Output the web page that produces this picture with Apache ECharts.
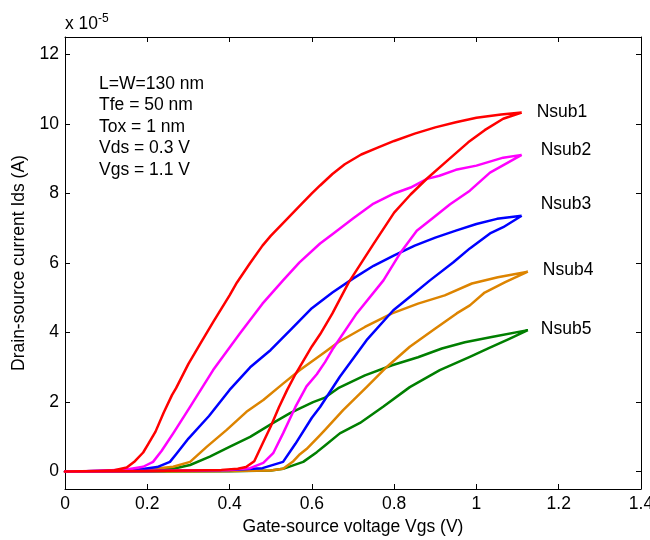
<!DOCTYPE html>
<html>
<head>
<meta charset="utf-8">
<script src="https://cdn.jsdelivr.net/npm/echarts@6/dist/echarts.min.js"></script>
<style>html,body{margin:0;padding:0;background:#fff}#c{width:650px;height:540px}</style>
</head>
<body>
<div id="c"></div>
<script>
// ---- data (Vgs in V, Ids in units of 1e-5 A) ----
const xTicks = [0, 0.2, 0.4, 0.6, 0.8, 1.0, 1.2, 1.4];
const yTicks = [0, 2, 4, 6, 8, 10, 12];
const seriesNames = ['Nsub1', 'Nsub2', 'Nsub3', 'Nsub4', 'Nsub5'];
const annotationLines = ['L=W=130 nm', 'Tfe = 50 nm', 'Tox = 1 nm', 'Vds = 0.3 V', 'Vgs = 1.1 V'];

// upper (backward sweep, from 1.1 V down to 0) and lower (forward sweep, 0 up to 1.1 V)
const nsub1Up = [[1.11,10.33],[1.06,10.27],[1.0,10.18],[0.95,10.05],[0.9,9.9],[0.85,9.72],[0.8,9.51],[0.76,9.32],[0.72,9.12],[0.68,8.84],[0.65,8.56],[0.62,8.23],[0.6,8.0],[0.571,7.65],[0.53,7.15],[0.5,6.78],[0.48,6.5],[0.45,6.0],[0.418,5.44],[0.4,5.07],[0.36,4.3],[0.33,3.7],[0.3,3.1],[0.27,2.4],[0.26,2.2],[0.24,1.7],[0.22,1.15],[0.2,0.75],[0.19,0.55],[0.17,0.3],[0.15,0.12],[0.12,0.04],[0.08,0.02],[0.04,0.01],[0,0]];
const nsub1Down = [[0,0],[0.1,0.01],[0.2,0.02],[0.3,0.03],[0.38,0.05],[0.42,0.08],[0.44,0.13],[0.46,0.3],[0.48,0.8],[0.5,1.3],[0.52,1.85],[0.54,2.35],[0.56,2.8],[0.58,3.2],[0.6,3.6],[0.62,3.95],[0.65,4.55],[0.69,5.45],[0.75,6.55],[0.8,7.45],[0.84,7.97],[0.88,8.43],[0.93,8.95],[0.98,9.47],[1.02,9.82],[1.065,10.15],[1.11,10.33]];

const nsub2Up = [[1.11,9.11],[1.065,9.03],[1.0,8.8],[0.95,8.68],[0.91,8.51],[0.88,8.42],[0.84,8.17],[0.8,8.0],[0.75,7.71],[0.7,7.28],[0.65,6.83],[0.62,6.56],[0.57,6.02],[0.53,5.5],[0.48,4.83],[0.425,3.97],[0.36,2.92],[0.304,1.86],[0.263,1.1],[0.235,0.6],[0.214,0.28],[0.19,0.14],[0.15,0.06],[0.1,0.03],[0.05,0.01],[0,0]];
const nsub2Down = [[0,0],[0.1,0.01],[0.2,0.02],[0.3,0.03],[0.4,0.05],[0.45,0.1],[0.482,0.25],[0.506,0.53],[0.53,1.1],[0.56,1.86],[0.587,2.45],[0.612,2.8],[0.632,3.15],[0.652,3.55],[0.709,4.55],[0.774,5.5],[0.814,6.27],[0.855,6.93],[0.895,7.3],[0.936,7.69],[0.984,8.08],[1.033,8.6],[1.11,9.11]];

const nsub3Up = [[1.11,7.36],[1.05,7.27],[1.0,7.12],[0.95,6.93],[0.9,6.73],[0.85,6.5],[0.8,6.22],[0.75,5.92],[0.7,5.55],[0.65,5.15],[0.6,4.7],[0.55,4.1],[0.5,3.5],[0.45,3.0],[0.4,2.35],[0.35,1.6],[0.3,0.95],[0.27,0.5],[0.255,0.28],[0.224,0.13],[0.18,0.06],[0.12,0.03],[0.05,0.01],[0,0]];
const nsub3Down = [[0,0],[0.1,0.01],[0.2,0.02],[0.3,0.03],[0.4,0.05],[0.48,0.1],[0.53,0.28],[0.56,0.8],[0.6,1.55],[0.62,1.86],[0.668,2.73],[0.733,3.78],[0.798,4.64],[0.846,5.1],[0.887,5.5],[0.944,6.02],[0.984,6.42],[1.033,6.85],[1.065,7.03],[1.11,7.36]];

const nsub4Up = [[1.125,5.75],[1.052,5.59],[0.989,5.41],[0.923,5.07],[0.858,4.83],[0.795,4.55],[0.729,4.16],[0.664,3.72],[0.632,3.44],[0.571,2.92],[0.53,2.53],[0.482,2.06],[0.441,1.72],[0.393,1.2],[0.345,0.72],[0.304,0.28],[0.263,0.14],[0.2,0.06],[0.1,0.02],[0,0]];
const nsub4Down = [[0,0],[0.1,0],[0.2,0.01],[0.3,0.01],[0.4,0.02],[0.5,0.03],[0.53,0.08],[0.555,0.3],[0.571,0.5],[0.587,0.65],[0.62,1.05],[0.632,1.2],[0.676,1.77],[0.733,2.43],[0.782,3.01],[0.838,3.59],[0.895,4.07],[0.952,4.55],[0.984,4.78],[1.02,5.15],[1.07,5.45],[1.125,5.75]];

const nsub5Up = [[1.125,4.07],[1.037,3.87],[0.972,3.72],[0.916,3.54],[0.858,3.29],[0.795,3.06],[0.729,2.77],[0.664,2.4],[0.632,2.13],[0.603,2.0],[0.571,1.82],[0.547,1.68],[0.506,1.4],[0.45,1.0],[0.401,0.72],[0.352,0.43],[0.304,0.19],[0.263,0.08],[0.2,0.03],[0.1,0.01],[0,0]];
const nsub5Down = [[0,0],[0.2,0],[0.4,0.01],[0.5,0.03],[0.53,0.08],[0.579,0.28],[0.612,0.56],[0.632,0.75],[0.668,1.1],[0.717,1.4],[0.774,1.87],[0.838,2.43],[0.911,2.92],[0.984,3.3],[1.03,3.55],[1.08,3.82],[1.125,4.07]];

const upper = [nsub1Up, nsub2Up, nsub3Up, nsub4Up, nsub5Up];
const lower = [nsub1Down, nsub2Down, nsub3Down, nsub4Down, nsub5Down];

// ---- styles ----
const colors = ['#ff0000', '#ff00ff', '#0000ff', '#dd8400', '#007f00'];
const labelOffsets = [[15, 0], [19, -5], [19, -12], [15, -2], [13, -1]];
const FONT = "'Liberation Sans', Arial, sans-serif";
const FS = 17.5;

const chart = echarts.init(document.getElementById('c'), null, {renderer: 'canvas'});

const series = seriesNames.map((name, i) => ({
  name: name,
  type: 'line',
  data: upper[i].concat(lower[i]),
  showSymbol: false,
  symbol: 'none',
  lineStyle: {color: colors[i], width: 2.5, join: 'round'},
  itemStyle: {color: colors[i]},
  endLabel: {
    show: true,
    formatter: name,
    distance: 0,
    offset: labelOffsets[i],
    color: '#000',
    fontFamily: FONT,
    fontSize: FS
  },
  xAxisIndex: 0,
  yAxisIndex: 0,
  animation: false,
  z: 5 - i
}));

const lineSt = {show: true, onZero: false, lineStyle: {color: '#000', width: 1}};
const tickSt = {show: true, inside: true, length: 5, lineStyle: {color: '#000'}};

chart.setOption({
  backgroundColor: '#fff',
  animation: false,
  grid: {left: 65, right: 9, top: 37, bottom: 51, containLabel: false, outerBoundsMode: 'none'},
  xAxis: [
    {
      type: 'value', min: 0, max: 1.4, interval: 0.2, position: 'bottom',
      axisLine: lineSt, axisTick: tickSt, splitLine: {show: false},
      axisLabel: {color: '#000', fontFamily: FONT, fontSize: FS, margin: 6,
        formatter: v => { const t = xTicks.find(x => Math.abs(x - v) < 1e-9); return t === undefined ? '' : String(t); }},
      name: 'Gate-source voltage Vgs (V)', nameLocation: 'middle', nameGap: 27,
      nameTextStyle: {color: '#000', fontFamily: FONT, fontSize: FS}
    },
    {
      type: 'value', min: 0, max: 1.4, interval: 0.2, position: 'top',
      axisLine: lineSt, axisTick: tickSt, splitLine: {show: false},
      axisLabel: {show: false}
    }
  ],
  yAxis: [
    {
      type: 'value', min: -0.5, max: 12.5, position: 'left',
      axisLine: lineSt, splitLine: {show: false},
      axisTick: Object.assign({}, tickSt, {customValues: yTicks}),
      axisLabel: {color: '#000', fontFamily: FONT, fontSize: FS, margin: 6, customValues: yTicks},
      name: 'Drain-source current Ids (A)', nameLocation: 'middle', nameGap: 36,
      nameTextStyle: {color: '#000', fontFamily: FONT, fontSize: FS}
    },
    {
      type: 'value', min: -0.5, max: 12.5, position: 'right',
      axisLine: lineSt, splitLine: {show: false},
      axisTick: Object.assign({}, tickSt, {customValues: yTicks}),
      axisLabel: {show: false}
    }
  ],
  graphic: [
    {
      type: 'text', left: 65, top: 13,
      style: {
        text: '{a|x 10}{b|-5}',
        rich: {
          a: {fontFamily: FONT, fontSize: FS, fill: '#000', verticalAlign: 'bottom'},
          b: {fontFamily: FONT, fontSize: 12, fill: '#000', verticalAlign: 'top', padding: [0, 0, 8, 0]}
        }
      }
    },
    {
      type: 'text', left: 99, top: 73,
      style: {
        text: annotationLines.join('\n'),
        fontFamily: FONT, fontSize: FS, fill: '#000', lineHeight: 21.5
      }
    }
  ],
  series: series
});
</script>
</body>
</html>
